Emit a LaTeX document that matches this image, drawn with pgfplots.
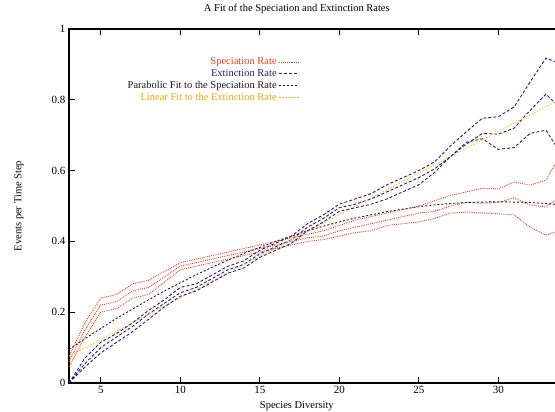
\documentclass[border=0pt]{standalone}
\usepackage{pgfplots}
\pgfplotsset{compat=1.18}
\usepackage{pgfplotstable}
\usepackage{fontspec}
\setmainfont{Liberation Serif}
\definecolor{specred}{RGB}{228,62,30}
\definecolor{extblue}{RGB}{38,28,125}
\definecolor{parblack}{RGB}{25,25,25}
\definecolor{linyellow}{RGB}{250,195,20}
\definecolor{lintext}{RGB}{245,165,0}

\pgfplotstableread{
x     u      m      l
3     0.075  0.060  0.045
4     0.170  0.150  0.130
5     0.240  0.220  0.200
6     0.250  0.230  0.210
7     0.280  0.260  0.240
8     0.290  0.270  0.250
9     0.315  0.300  0.285
10    0.340  0.330  0.320
11    0.350  0.340  0.330
12    0.360  0.350  0.340
13    0.370  0.360  0.350
14    0.380  0.370  0.360
15    0.390  0.380  0.370
16    0.400  0.390  0.380
17    0.410  0.400  0.390
18    0.420  0.410  0.400
19    0.430  0.415  0.405
20    0.445  0.430  0.415
21    0.460  0.440  0.425
22    0.470  0.450  0.430
23    0.480  0.460  0.445
24    0.490  0.470  0.450
25    0.500  0.480  0.455
26    0.515  0.485  0.465
27    0.530  0.500  0.480
28    0.540  0.510  0.483
29    0.550  0.508  0.480
30    0.548  0.510  0.478
31    0.568  0.523  0.475
32    0.559  0.503  0.440
33    0.573  0.497  0.418
33.6  0.620  0.517  0.427
}\spec

\pgfplotstableread{
x     u      m      l
3     0.000  0.000  0.000
4     0.070  0.055  0.045
5     0.115  0.100  0.085
6     0.140  0.130  0.115
7     0.170  0.160  0.145
8     0.205  0.195  0.180
9     0.235  0.225  0.215
10    0.270  0.255  0.245
11    0.280  0.270  0.260
12    0.305  0.295  0.285
13    0.330  0.320  0.310
14    0.345  0.335  0.325
15    0.375  0.365  0.355
16    0.395  0.385  0.375
17    0.415  0.405  0.395
18    0.450  0.440  0.430
19    0.475  0.465  0.455
20    0.505  0.495  0.485
21    0.520  0.505  0.495
22    0.535  0.520  0.505
23    0.560  0.540  0.520
24    0.580  0.560  0.540
25    0.600  0.580  0.560
26    0.625  0.605  0.595
27    0.670  0.640  0.640
28    0.710  0.675  0.680
29    0.748  0.705  0.690
30    0.752  0.703  0.660
31    0.780  0.720  0.665
32    0.850  0.770  0.705
33    0.918  0.816  0.714
33.6  0.907  0.790  0.672
}\ext

\pgfplotstableread{
x     y
3     0.095
4     0.125
5     0.154
6     0.183
7     0.209
8     0.235
9     0.260
10    0.283
11    0.306
12    0.327
13    0.347
14    0.366
15    0.383
16    0.400
17    0.415
18    0.430
19    0.443
20    0.455
21    0.466
22    0.475
23    0.484
24    0.491
25    0.498
26    0.503
27    0.507
28    0.510
29    0.511
30    0.512
31    0.511
32    0.510
33    0.507
33.6  0.505
}\para

\pgfplotstableread{
x     y
3     0.076
33.6  0.795
}\lin

\begin{document}
\begin{tikzpicture}
\path[use as bounding box] (-69pt,-29pt) rectangle (486pt,383pt);
\begin{axis}[
  at={(0pt,0pt)}, anchor=south west,
  scale only axis,
  width=490pt, height=354pt,
  xmin=3, xmax=33.82, ymin=0, ymax=1,
  xtick={5,10,15,20,25,30},
  ytick={0,0.2,0.4,0.6,0.8,1},
  tick align=inside,
  major tick length=6pt,
  xtick pos=both,
  ytick pos=left,
  axis line style={line width=1.3pt},
  major tick style={line width=1pt,black},
  font=\fontsize{10.5}{12}\selectfont,
  /pgf/number format/assume math mode=true,
  ticklabel style={font=\fontsize{11}{12}\selectfont},
  title={A Fit of the Speciation and Extinction Rates},
  title style={at={(0.465,1)}, anchor=base, yshift=11pt, font=\fontsize{10.5}{12}\selectfont},
  xlabel={Species Diversity},
  xlabel style={at={(0.465,0)}, anchor=base, yshift=-26pt},
  ylabel={Events per Time Step},
  ylabel style={at={(0,0.5)}, anchor=center, yshift=50pt},
  legend plot pos=right,
  legend cell align=right,
  legend style={at={(0.471,0.925)}, anchor=north east, draw=none, fill=none,
    inner sep=0pt, row sep=-0.8pt, font=\fontsize{10.5}{12}\selectfont},
  legend image code/.code={\draw[#1] (0pt,0pt) -- (20pt,0pt);},
  every axis plot/.append style={line width=0.9pt},
]
\addplot[specred, densely dotted] table[x=x,y=m] {\spec};
\addlegendentry{\textcolor{specred}{Speciation Rate}}
\addplot[extblue, dash pattern=on 3pt off 2pt] table[x=x,y=m] {\ext};
\addlegendentry{\textcolor{extblue}{Extinction Rate}}
\addplot[parblack, dash pattern=on 2pt off 2pt] table[x=x,y=y] {\para};
\addlegendentry{\textcolor{parblack}{Parabolic Fit to the Speciation Rate}}
\addplot[linyellow, dash pattern=on 1.5pt off 1.5pt] table[x=x,y=y] {\lin};
\addlegendentry{\textcolor{lintext}{Linear Fit to the Extinction Rate}}
\addplot[specred, densely dotted, forget plot] table[x=x,y=u] {\spec};
\addplot[specred, densely dotted, forget plot] table[x=x,y=l] {\spec};
\addplot[extblue, dash pattern=on 3pt off 2pt, forget plot] table[x=x,y=u] {\ext};
\addplot[extblue, dash pattern=on 3pt off 2pt, forget plot] table[x=x,y=l] {\ext};
\end{axis}
\end{tikzpicture}
\end{document}
